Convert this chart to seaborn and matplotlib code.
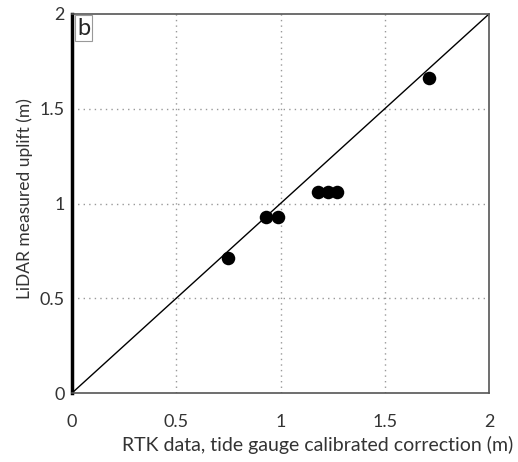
import matplotlib
matplotlib.use("Agg")
import matplotlib.pyplot as plt
import seaborn as sns
import pandas as pd

rtk = [0.75, 0.93, 0.99, 1.18, 1.23, 1.27, 1.71]
lidar = [0.71, 0.93, 0.93, 1.06, 1.06, 1.06, 1.66]
ticks = [0, 0.5, 1, 1.5, 2]
tick_labels = ["0", "0.5", "1", "1.5", "2"]

sns.set_style("white")
plt.rcParams['font.family'] = ['Lato', 'DejaVu Sans']

df = pd.DataFrame({"rtk": rtk, "lidar": lidar})
fig = plt.figure(figsize=(5.18, 4.62), dpi=100)
ax = fig.add_axes([72/518, 1-393/462, (489-72)/518, (393-14)/462])

for v in [0.5, 1, 1.5]:
    ax.axvline(v, color="#999999", lw=1.0, ls=(0, (1, 3)), zorder=0)
    ax.axhline(v, color="#999999", lw=1.0, ls=(0, (1, 3)), zorder=0)
ax.plot([0, 2], [0, 2], color="black", lw=1.0, zorder=1)
sns.scatterplot(data=df, x="rtk", y="lidar", ax=ax, color="black", s=95,
                edgecolor="black", linewidth=0, zorder=3)

ax.set_xlim(0, 2)
ax.set_ylim(0, 2)
ax.set_xticks(ticks)
ax.set_xticklabels(tick_labels)
ax.set_yticks(ticks)
ax.set_yticklabels(tick_labels)
ax.tick_params(length=0, labelsize=13, colors="#333333")
ax.tick_params(axis="x", pad=15)
ax.tick_params(axis="y", pad=5)
ax.set_xlabel("RTK data, tide gauge calibrated correction (m)", fontsize=14, color="#333333")
ax.set_ylabel("LiDAR measured uplift (m)", fontsize=12.5, color="#333333")
ax.xaxis.set_label_coords(0.59, -0.112)
ax.yaxis.set_label_coords(-0.094, 0.512)

for s in ["top", "right", "bottom"]:
    ax.spines[s].set_color("#555555")
    ax.spines[s].set_linewidth(1.2)
ax.spines["left"].set_color("black")
ax.spines["left"].set_linewidth(2.5)

ax.text(0.012, 0.99, "b", transform=ax.transAxes, fontsize=17, va="top", ha="left",
        bbox=dict(boxstyle="square,pad=0.1", fc="white", ec="#999999", lw=0.8), zorder=5)

fig.savefig("out.png", dpi=100)
